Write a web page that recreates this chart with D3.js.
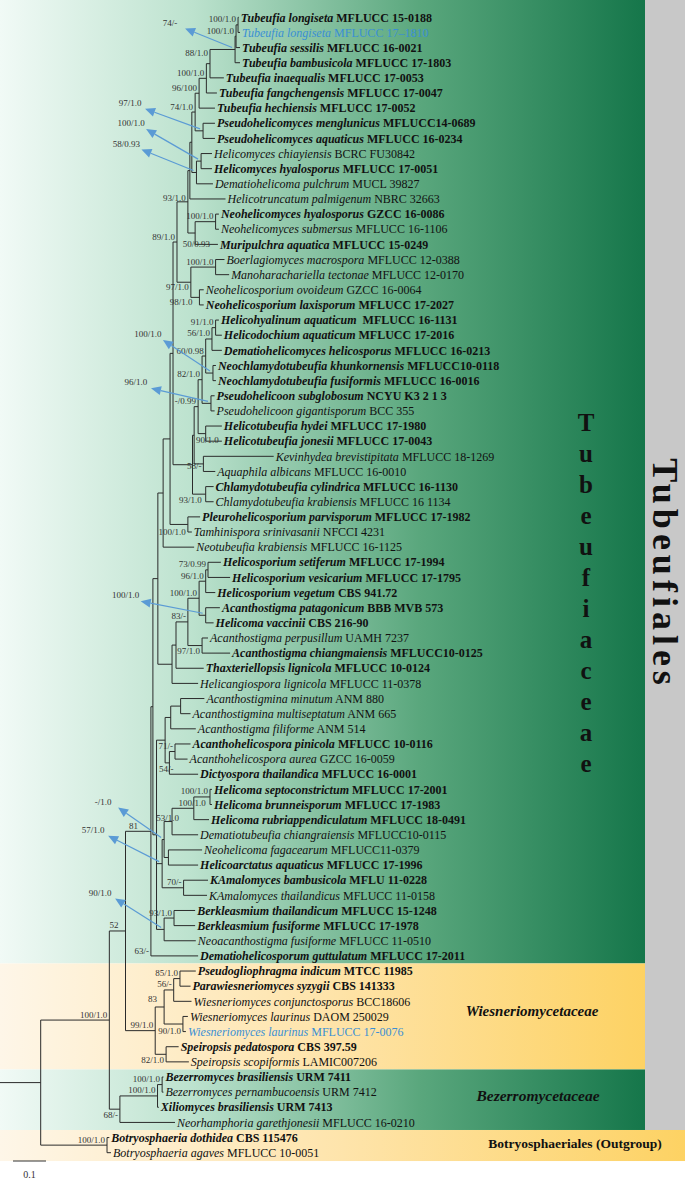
<!DOCTYPE html>
<html>
<head>
<script src="https://d3js.org/d3.v7.min.js" charset="utf-8"></script>
<style>
  body { margin: 0; background: #fff; }
  text { font-family: "Liberation Serif", "Times New Roman", serif; }
</style>
</head>
<body>
<svg id="chart" width="685" height="1181"></svg>
<script>
// ---- data ----
const taxonNames = [
  "Tubeufia longiseta", "Tubeufia longiseta", "Tubeufia sessilis", "Tubeufia bambusicola",
  "Tubeufia inaequalis", "Tubeufia fangchengensis", "Tubeufia hechiensis",
  "Pseudohelicomyces menglunicus", "Pseudohelicomyces aquaticus", "Helicomyces chiayiensis",
  "Helicomyces hyalosporus", "Dematiohelicoma pulchrum", "Helicotruncatum palmigenum",
  "Neohelicomyces hyalosporus", "Neohelicomyces submersus", "Muripulchra aquatica",
  "Boerlagiomyces macrospora", "Manoharachariella tectonae", "Neohelicosporium ovoideum",
  "Neohelicosporium laxisporum", "Helicohyalinum aquaticum", "Helicodochium aquaticum",
  "Dematiohelicomyces helicosporus", "Neochlamydotubeufia khunkornensis", "Neochlamydotubeufia fusiformis",
  "Pseudohelicoon subglobosum", "Pseudohelicoon gigantisporum", "Helicotubeufia hydei",
  "Helicotubeufia jonesii", "Kevinhydea brevistipitata", "Aquaphila albicans",
  "Chlamydotubeufia cylindrica", "Chlamydotubeufia krabiensis", "Pleurohelicosporium parvisporum",
  "Tamhinispora srinivasanii", "Neotubeufia krabiensis", "Helicosporium setiferum",
  "Helicosporium vesicarium", "Helicosporium vegetum", "Acanthostigma patagonicum",
  "Helicoma vaccinii", "Acanthostigma perpusillum", "Acanthostigma chiangmaiensis",
  "Thaxteriellopsis lignicola", "Helicangiospora lignicola", "Acanthostigmina minutum",
  "Acanthostigmina multiseptatum", "Acanthostigma filiforme", "Acanthohelicospora pinicola",
  "Acanthohelicospora aurea", "Dictyospora thailandica", "Helicoma septoconstrictum",
  "Helicoma brunneisporum", "Helicoma rubriappendiculatum", "Dematiotubeufia chiangraiensis",
  "Neohelicoma fagacearum", "Helicoarctatus aquaticus", "KAmalomyces bambusicola",
  "KAmalomyces thailandicus", "Berkleasmium thailandicum", "Berkleasmium fusiforme",
  "Neoacanthostigma fusiforme", "Dematiohelicosporum guttulatum", "Pseudogliophragma indicum",
  "Parawiesneriomyces syzygii", "Wiesneriomyces conjunctosporus", "Wiesneriomyces laurinus",
  "Wiesneriomyces laurinus", "Speiropsis pedatospora", "Speiropsis scopiformis",
  "Bezerromyces brasiliensis", "Bezerromyces pernambucoensis", "Xiliomyces brasiliensis",
  "Neorhamphoria garethjonesii", "Botryosphaeria dothidea", "Botryosphaeria agaves"
];
const strains = [
  "MFLUCC 15-0188", "MFLUCC 17\u20131810", "MFLUCC 16-0021", "MFLUCC 17-1803",
  "MFLUCC 17-0053", "MFLUCC 17-0047", "MFLUCC 17-0052",
  "MFLUCC14-0689", "MFLUCC 16-0234", "BCRC FU30842",
  "MFLUCC 17-0051", "MUCL 39827", "NBRC 32663",
  "GZCC 16-0086", "MFLUCC 16-1106", "MFLUCC 15-0249",
  "MFLUCC 12-0388", "MFLUCC 12-0170", "GZCC 16-0064",
  "MFLUCC 17-2027", "\u00a0MFLUCC 16-1131", "MFLUCC 17-2016",
  "MFLUCC 16-0213", "MFLUCC10-0118", "MFLUCC 16-0016",
  "NCYU K3 2 1 3", "BCC 355", "MFLUCC 17-1980",
  "MFLUCC 17-0043", "MFLUCC 18-1269", "MFLUCC 16-0010",
  "MFLUCC 16-1130", "MFLUCC 16 1134", "MFLUCC 17-1982",
  "NFCCI 4231", "MFLUCC 16-1125", "MFLUCC 17-1994",
  "MFLUCC 17-1795", "CBS 941.72", "BBB MVB 573",
  "CBS 216-90", "UAMH 7237", "MFLUCC10-0125",
  "MFLUCC 10-0124", "MFLUCC 11-0378", "ANM 880",
  "ANM 665", "ANM 514", "MFLUCC 10-0116",
  "GZCC 16-0059", "MFLUCC 16-0001", "MFLUCC 17-2001",
  "MFLUCC 17-1983", "MFLUCC 18-0491", "MFLUCC10-0115",
  "MFLUCC11-0379", "MFLUCC 17-1996", "MFLU 11-0228",
  "MFLUCC 11-0158", "MFLUCC 15-1248", "MFLUCC 17-1978",
  "MFLUCC 11-0510", "MFLUCC 17-2011", "MTCC 11985",
  "CBS 141333", "BCC18606", "DAOM 250029",
  "MFLUCC 17-0076", "CBS 397.59", "LAMIC007206",
  "URM 7411", "URM 7412", "URM 7413",
  "MFLUCC 16-0210", "CBS 115476", "MFLUCC 10-0051"
];
// ex-type strains (bold) and newly sequenced strains (blue)
const exType = [0,2,3,4,5,6,7,8,10,13,15,19,20,21,22,23,24,25,27,28,31,33,36,37,38,39,40,
  42,43,48,50,51,52,53,56,57,59,60,62,63,64,68,70,72,74];
const newRecords = [1, 67];
// distance from root (substitutions/site) of every tip
const tipDepth = [
  0.600,0.604,0.604,0.604,0.555,0.534,0.528,0.528,0.528,0.519,
  0.519,0.522,0.560,0.540,0.540,0.537,0.557,0.571,0.494,0.494,
  0.540,0.549,0.549,0.531,0.531,0.527,0.527,0.549,0.549,0.706,
  0.529,0.524,0.524,0.483,0.458,0.465,0.546,0.574,0.529,0.543,
  0.524,0.507,0.574,0.494,0.477,0.496,0.454,0.470,0.454,0.445,
  0.477,0.519,0.519,0.510,0.477,0.489,0.477,0.507,0.504,0.468,
  0.468,0.470,0.477,0.470,0.454,0.457,0.446,0.440,0.418,0.449,
  0.372,0.372,0.358,0.407,0.208,0.213
];
// internal nodes: id, children, distance from root, support (ML/PP)
const clades = [
  ["A", ["t0","t1"], 0.598, "100/1.0"],
  ["B", ["A","t2"], 0.592, "100/1.0"],
  ["C", ["B","t3"], 0.589, "74/-"],
  ["D", ["C","t4"], 0.513, "88/1.0"],
  ["E", ["D","t5"], 0.502, "100/1.0"],
  ["F", ["E","t6"], 0.480, "96/100"],
  ["PS", ["t7","t8"], 0.492, "97/1.0"],
  ["G", ["F","PS"], 0.468, "74/1.0"],
  ["HM", ["t9","t10"], 0.486, "100/1.0"],
  ["H", ["HM","t11"], 0.472, "58/0.93"],
  ["I", ["G","H"], 0.458, ""],
  ["J", ["I","t12"], 0.452, "93/1.0"],
  ["NH", ["t13","t14"], 0.530, "100/1.0"],
  ["K", ["NH","t15"], 0.468, "50/0.93"],
  ["L", ["J","K"], 0.446, ""],
  ["BM", ["t16","t17"], 0.530, "100/1.0"],
  ["NS", ["t18","t19"], 0.481, "98/1.0"],
  ["N", ["BM","NS"], 0.455, "97/1.0"],
  ["M", ["L","N"], 0.413, "89/1.0"],
  ["N1", ["t20","t21"], 0.530, "91/1.0"],
  ["N2", ["N1","t22"], 0.519, "56/1.0"],
  ["NC", ["t23","t24"], 0.522, "100/1.0"],
  ["N3", ["N2","NC"], 0.500, "60/0.98"],
  ["PH", ["t25","t26"], 0.516, "96/1.0"],
  ["N4", ["N3","PH"], 0.489, "82/1.0"],
  ["HT", ["t27","t28"], 0.500, "90/1.0"],
  ["N5", ["N4","HT"], 0.477, "-/0.99"],
  ["KA", ["t29","t30"], 0.493, "58/-"],
  ["X1", ["N5","KA"], 0.465, ""],
  ["CH", ["t31","t32"], 0.500, "93/1.0"],
  ["X", ["X1","CH"], 0.460, ""],
  ["S", ["M","X"], 0.401, ""],
  ["PT", ["t33","t34"], 0.446, "100/1.0"],
  ["P", ["S","PT"], 0.392, ""],
  ["Q", ["P","t35"], 0.371, ""],
  ["Q1", ["t36","t37"], 0.507, "73/0.99"],
  ["Q2", ["Q1","t38"], 0.500, "96/1.0"],
  ["Q3", ["t39","t40"], 0.500, "100/1.0"],
  ["Q4", ["Q2","Q3"], 0.480, "100/1.0"],
  ["Q6", ["t41","t42"], 0.489, "97/1.0"],
  ["Q5", ["Q4","Q6"], 0.446, "83/-"],
  ["Q7", ["Q5","t43"], 0.410, ""],
  ["Q8", ["Q7","t44"], 0.398, ""],
  ["W1", ["Q","Q8"], 0.355, ""],
  ["Ra", ["t45","t46"], 0.424, ""],
  ["Rb", ["Ra","t47"], 0.394, ""],
  ["Rc", ["t48","t49"], 0.407, "71/-"],
  ["Rd", ["Rc","t50"], 0.390, "54/-"],
  ["W2", ["Rb","Rd"], 0.377, ""],
  ["H1", ["t51","t52"], 0.513, "100/1.0"],
  ["H2", ["H1","t53"], 0.464, "100/1.0"],
  ["H3", ["H2","t54"], 0.398, "53/1.0"],
  ["NHc", ["t55","t56"], 0.387, ""],
  ["R1", ["H3","NHc"], 0.374, "-/1.0"],
  ["KAM", ["t57","t58"], 0.433, "70/-"],
  ["R3", ["R1","KAM"], 0.368, "57/1.0"],
  ["Bk", ["t59","t60"], 0.404, "93/1.0"],
  ["BN", ["Bk","t61"], 0.374, "90/1.0"],
  ["R2", ["W2","R3","BN"], 0.351, ""],
  ["T1", ["W1","R2"], 0.340, "63/-"],
  ["T", ["T1","t62"], 0.334, "81"],
  ["PG", ["t63","t64"], 0.422, "85/1.0"],
  ["PGc", ["PG","t65"], 0.403, "56/-"],
  ["WL", ["t66","t67"], 0.431, "90/1.0"],
  ["W83", ["PGc","WL"], 0.374, "83"],
  ["SP", ["t68","t69"], 0.380, "82/1.0"],
  ["W", ["W83","SP"], 0.347, "99/1.0"],
  ["TW", ["T","W"], 0.257, "52"],
  ["B1", ["t70","t71"], 0.368, "100/1.0"],
  ["B2", ["B1","t72"], 0.354, "100/1.0"],
  ["B3", ["B2","t73"], 0.240, "68/-"],
  ["I0", ["TW","B3"], 0.208, "100/1.0"],
  ["Bot", ["t74","t75"], 0.201, "100/1.0"],
  ["root", ["I0","Bot"], 0.000, ""]
];
const familyNames = ["Wiesneriomycetaceae", "Bezerromycetaceae"];
const orderName = "Tubeufiales";
const outgroupName = "Botryosphaeriales (Outgroup)";
const ingroupFamily = "Tubeufiaceae";

// ---- layout tweaks (pixels) ----
// support labels that sit away from the default spot (left of node, above stem)
const labelShift = {
  D: [0, -5], J: [-2, 33], K: [17, 16], N: [0, 10], NS: [-5, 10], HT: [15, 12],
  KA: [0, 8], CH: [-2, 11], PT: [0, 13], Q6: [0, 11], Rd: [6, 12], H2: [14, 0],
  H3: [9, 2], T: [-11, 0], T1: [-2, 250], W83: [-5, -2], WL: [0, 12], SP: [0, 11],
  TW: [-5, 0], B3: [0, 11]
};
// support labels connected to their node by a blue arrow: label centre relative to node
const callouts = {
  C: [-65, -27], PS: [-73, -28], HM: [-70, -38], H: [-70, -29], NC: [-65, -39],
  PH: [-75, -21], Q3: [-80, -20], R1: [-61, -38], R3: [-69, -34], BN: [-64, -37]
};

// ---- build ----
const svg = d3.select("#chart");
const x = d3.scaleLinear().domain([0, 1]).range([40.7, 370.7]);
const y = d3.scaleLinear().domain([0, taxonNames.length - 1]).range([17.3, 1152.7]);

const nodes = {};
taxonNames.forEach((t, i) => { nodes["t" + i] = {id: "t" + i, depth: tipDepth[i], y: y(i), tip: i}; });
clades.forEach(c => { nodes[c[0]] = {id: c[0], kids: c[1], depth: c[2], support: c[3]}; });
function placeY(id) {
  const n = nodes[id];
  if (n.y === undefined) {
    const ys = n.kids.map(placeY);
    n.y = (d3.min(ys) + d3.max(ys)) / 2;
  }
  return n.y;
}
placeY("root");

// backgrounds
const defs = svg.append("defs");
function grad(id, stops) {
  const g = defs.append("linearGradient").attr("id", id)
    .attr("x1", "0%").attr("x2", "100%").attr("y1", "0%").attr("y2", "0%");
  stops.forEach(s => g.append("stop").attr("offset", s[0]).attr("stop-color", s[1]));
}
grad("green", [["0", "#f1faf6"], ["0.3", "#bce2ce"], ["0.65", "#5aa77d"], ["1", "#15764a"]]);
grad("yellow", [["0", "#fef6e8"], ["0.5", "#fee4ab"], ["1", "#fdd263"]]);

const bandRight = 645;
const bTop = 0, bTub = y(62.5), bWies = y(69.5), bBez = y(73.5), bBot = y(75.55);
svg.append("rect").attr("x", bandRight).attr("y", 0).attr("width", 685 - bandRight)
  .attr("height", bBez).attr("fill", "#c8c8c8");
svg.append("rect").attr("x", 0).attr("y", bTop).attr("width", bandRight).attr("height", bTub - bTop)
  .attr("fill", "url(#green)");
svg.append("rect").attr("x", 0).attr("y", bTub).attr("width", bandRight).attr("height", bWies - bTub)
  .attr("fill", "url(#yellow)");
svg.append("rect").attr("x", 0).attr("y", bWies).attr("width", bandRight).attr("height", bBez - bWies)
  .attr("fill", "url(#green)");
svg.append("rect").attr("x", 0).attr("y", bBez).attr("width", 685).attr("height", bBot - bBez)
  .attr("fill", "url(#yellow)");

// branches
const lines = svg.append("g").attr("stroke", "#2b2b2b").attr("stroke-width", 1).attr("fill", "none");
clades.forEach(c => {
  const n = nodes[c[0]];
  const ys = n.kids.map(k => nodes[k].y);
  lines.append("line").attr("x1", x(n.depth)).attr("x2", x(n.depth))
    .attr("y1", d3.min(ys)).attr("y2", d3.max(ys));
  n.kids.forEach(k => {
    const ch = nodes[k];
    lines.append("line").attr("x1", x(n.depth)).attr("x2", x(ch.depth))
      .attr("y1", ch.y).attr("y2", ch.y);
  });
});
lines.append("line").attr("x1", 0).attr("x2", x(0)).attr("y1", nodes.root.y).attr("y2", nodes.root.y);

// support values
const sup = svg.append("g").attr("font-size", "9px").attr("fill", "#333");
clades.filter(c => c[3] && !callouts[c[0]]).forEach(c => {
  const n = nodes[c[0]];
  const s = labelShift[c[0]] || [0, 0];
  sup.append("text").attr("x", x(n.depth) - 2 + s[0]).attr("y", n.y - 2.5 + s[1])
    .attr("text-anchor", "end").text(c[3]);
});

// arrowed support values
const arrowColor = "#5b9bd5";
const arr = svg.append("g");
Object.keys(callouts).forEach(id => {
  const n = nodes[id];
  const c = clades.find(d => d[0] === id);
  const lx = x(n.depth) + callouts[id][0], ly = n.y + callouts[id][1];
  sup.append("text").attr("x", lx).attr("y", ly).attr("dy", "0.35em")
    .attr("text-anchor", "middle").text(c[3]);
  const tx = x(n.depth) - 3, ty = n.y - 2;
  const hx = lx + 15, hy = ly + 6;
  const ang = Math.atan2(hy - ty, hx - tx);
  const len = 10, half = 4.5;
  const bx = hx - Math.cos(ang) * len, by = hy - Math.sin(ang) * len;
  arr.append("line").attr("x1", tx).attr("y1", ty).attr("x2", bx).attr("y2", by)
    .attr("stroke", arrowColor).attr("stroke-width", 1.2);
  const px = -Math.sin(ang) * half, py = Math.cos(ang) * half;
  arr.append("polygon")
    .attr("points", [[hx, hy], [bx + px, by + py], [bx - px, by - py]].map(p => p.join(",")).join(" "))
    .attr("fill", arrowColor);
});

// tip labels
const tips = svg.append("g").attr("font-size", "12px");
taxonNames.forEach((t, i) => {
  const bold = exType.includes(i);
  const txt = tips.append("text").attr("x", x(tipDepth[i]) + 2).attr("y", y(i)).attr("dy", "0.35em")
    .attr("fill", newRecords.includes(i) ? "#3a8fd4" : "#111")
    .attr("font-weight", bold ? "bold" : "normal");
  txt.append("tspan").attr("font-style", "italic").text(t);
  txt.append("tspan").text(" " + strains[i]);
});

// family / order names
const famX = 586;
ingroupFamily.split("").forEach((ch, i) => {
  svg.append("text").attr("x", famX).attr("y", 422 + i * 31).attr("dy", "0.35em")
    .attr("text-anchor", "middle").attr("font-size", "25px").attr("font-weight", "bold")
    .attr("fill", "#111").text(ch);
});
svg.append("text").attr("x", 532).attr("y", nodes.W.y - 20).attr("dy", "0.35em")
  .attr("text-anchor", "middle").attr("font-size", "15px").attr("font-weight", "bold")
  .attr("font-style", "italic").attr("fill", "#111").text(familyNames[0]);
svg.append("text").attr("x", 538).attr("y", nodes.B2.y).attr("dy", "0.35em")
  .attr("text-anchor", "middle").attr("font-size", "15.5px").attr("font-weight", "bold")
  .attr("font-style", "italic").attr("fill", "#111").text(familyNames[1]);
svg.append("text").attr("x", 575).attr("y", 1143.5).attr("dy", "0.35em")
  .attr("text-anchor", "middle").attr("font-size", "13.5px").attr("font-weight", "bold")
  .attr("fill", "#111").text(outgroupName);
svg.append("text").attr("transform", `translate(666, 574) rotate(90)`)
  .attr("text-anchor", "middle").attr("dy", "0.35em").attr("font-size", "36px")
  .attr("font-weight", "bold").attr("letter-spacing", "5px").attr("fill", "#111").text(orderName);

// scale bar
const sbY = 1161, sbX = 13;
svg.append("line").attr("x1", sbX).attr("x2", sbX + x(0.1) - x(0)).attr("y1", sbY).attr("y2", sbY)
  .attr("stroke", "#333").attr("stroke-width", 1);
svg.append("text").attr("x", sbX + (x(0.1) - x(0)) / 2).attr("y", 1174).attr("dy", "0.35em")
  .attr("text-anchor", "middle").attr("font-size", "10px").attr("fill", "#333").text("0.1");
</script>
</body>
</html>
